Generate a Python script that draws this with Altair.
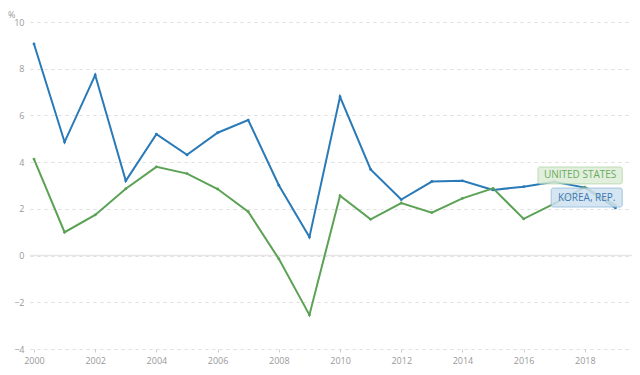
import altair as alt
import pandas as pd

years = list(range(2000, 2020))
korea = [9.06, 4.86, 7.73, 3.20, 5.20, 4.31, 5.26, 5.80, 3.01, 0.79,
         6.80, 3.69, 2.40, 3.17, 3.20, 2.81, 2.95, 3.16, 2.91, 2.04]
usa = [4.13, 1.00, 1.74, 2.86, 3.80, 3.51, 2.85, 1.88, -0.14, -2.54,
       2.56, 1.55, 2.25, 1.84, 2.45, 2.88, 1.57, 2.22, 2.93, 2.16]

series_names = ["KOREA, REP.", "UNITED STATES"]
series_colors = ["#2a7ab8", "#5ba255"]

label_names = ["UNITED STATES", "KOREA, REP."]
label_x = [2016.47, 2016.9]
label_x2 = [2019.22, 2019.22]
label_y = [3.79, 2.89]
label_y2 = [3.07, 2.08]
label_fill = ["#dcedd6", "#cfe1f0"]
label_stroke = ["#b3d6aa", "#93bbdc"]
label_text = ["#6aab5f", "#3b79b2"]

rows = []
for name, vals in zip(series_names, [korea, usa]):
    for y, v in zip(years, vals):
        rows.append({"year": y, "value": v, "series": name})
df = pd.DataFrame(rows)

lab = pd.DataFrame({
    "name": label_names, "x": label_x, "x2": label_x2,
    "y": label_y, "y2": label_y2,
    "fill": label_fill, "stroke": label_stroke, "tc": label_text,
})
lab["xc"] = (lab["x"] + lab["x2"]) / 2
lab["yc"] = (lab["y"] + lab["y2"]) / 2

xscale = alt.Scale(domain=[1999.87, 2019.54], nice=False, zero=False)
yscale = alt.Scale(domain=[-4, 10], nice=False)

color = alt.Color("series:N", scale=alt.Scale(domain=series_names, range=series_colors), legend=None)

xaxis = alt.Axis(values=list(range(2000, 2019, 2)), format="d", grid=False, domain=False,
                 tickSize=3, tickColor="#cccccc", labelColor="#999999", labelFontSize=9,
                 labelFont="Open Sans", title=None, labelPadding=4)
yaxis = alt.Axis(values=list(range(-4, 11, 2)), grid=True, gridDash=[3, 4], gridColor="#dddddd",
                 domain=False, ticks=False, labelColor="#999999", labelFontSize=9,
                 labelFont="Open Sans", title=None, labelPadding=6)

base = alt.Chart(df)
lines = base.mark_line(strokeWidth=2).encode(
    x=alt.X("year:Q", scale=xscale, axis=xaxis),
    y=alt.Y("value:Q", scale=yscale, axis=yaxis),
    color=color,
    detail="series:N",
)
pts = base.mark_circle(size=8, opacity=1).encode(
    x=alt.X("year:Q", scale=xscale),
    y=alt.Y("value:Q", scale=yscale),
    color=color,
)
zero = alt.Chart(pd.DataFrame({"z": [0]})).mark_rule(color="#e6e6e6", strokeWidth=1.5).encode(
    y=alt.Y("z:Q", scale=yscale)
)
boxes = alt.Chart(lab).mark_rect(opacity=0.85, strokeWidth=1, cornerRadius=2).encode(
    x=alt.X("x:Q", scale=xscale), x2="x2:Q",
    y=alt.Y("y:Q", scale=yscale), y2="y2:Q",
    fill=alt.Fill("fill:N", scale=None),
    stroke=alt.Stroke("stroke:N", scale=None),
)
texts = alt.Chart(lab).mark_text(font="Open Sans", fontSize=10).encode(
    x=alt.X("xc:Q", scale=xscale),
    y=alt.Y("yc:Q", scale=yscale),
    text="name:N",
    color=alt.Color("tc:N", scale=None),
)
pct = alt.Chart(pd.DataFrame({"t": ["%"]})).mark_text(
    font="Open Sans", fontSize=9, color="#999999", align="left", baseline="middle"
).encode(x=alt.value(-22), y=alt.value(-7), text="t:N")

chart = alt.layer(zero, lines, pts, boxes, texts, pct).properties(
    width=602, height=327,
    autosize=alt.AutoSizeParams(type="none"),
    padding={"left": 22, "top": 14, "right": 0, "bottom": 18},
).configure_view(stroke=None)

chart.save("out.html", embed_options={"renderer": "svg", "actions": False})
